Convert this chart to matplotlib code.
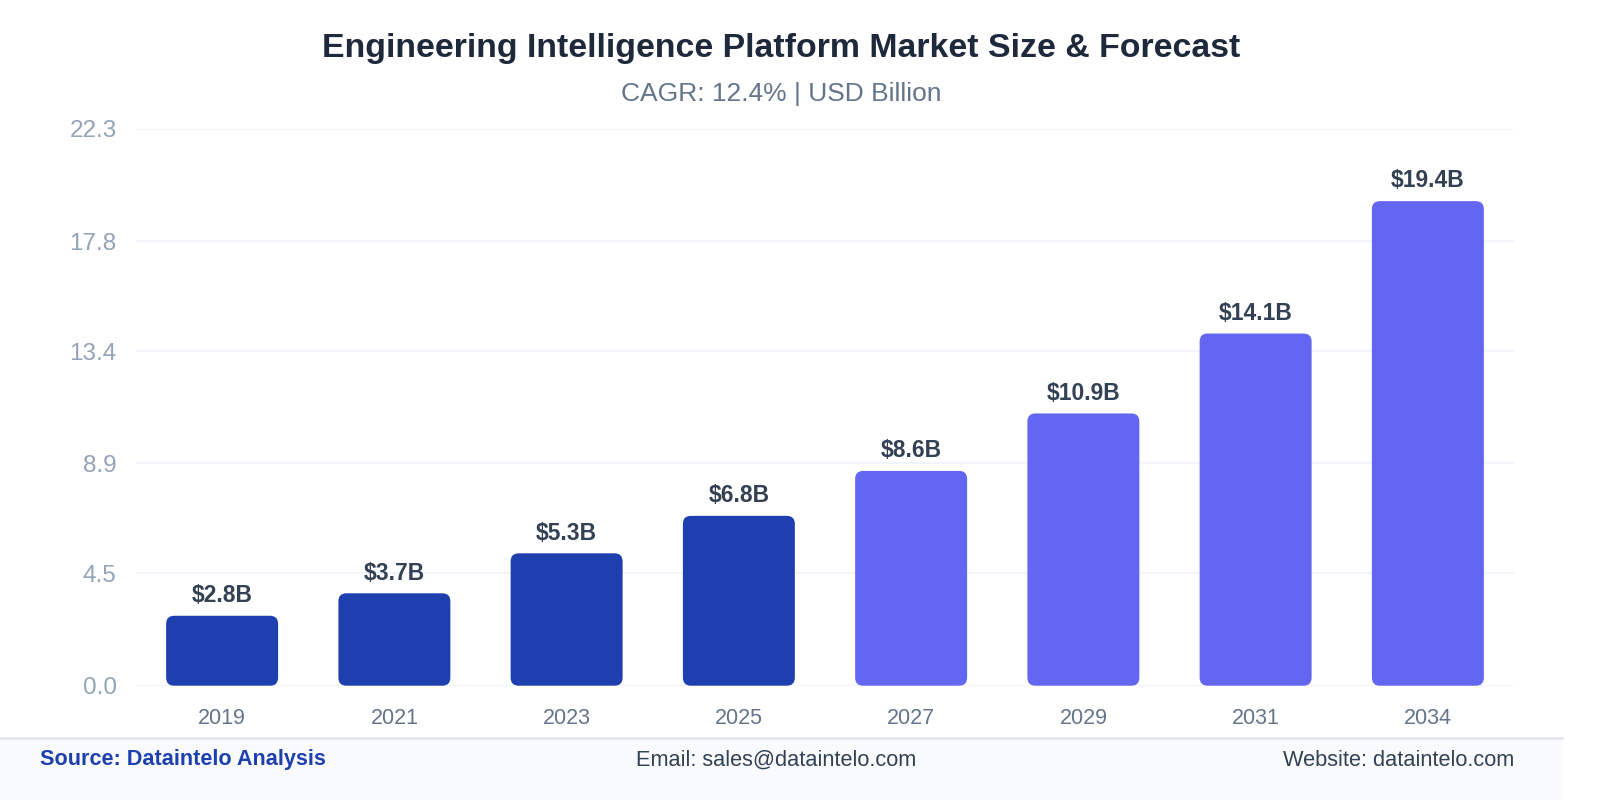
import matplotlib
matplotlib.use("Agg")
import matplotlib.pyplot as plt
from matplotlib.patches import FancyBboxPatch, Rectangle

years = ["2019", "2021", "2023", "2025", "2027", "2029", "2031", "2034"]
values = [2.8, 3.7, 5.3, 6.8, 8.6, 10.9, 14.1, 19.4]
labels = ["$2.8B", "$3.7B", "$5.3B", "$6.8B", "$8.6B", "$10.9B", "$14.1B", "$19.4B"]
yticks = [0.0, 4.5, 8.9, 13.4, 17.8, 22.3]
colors = ["#1e40af"] * 4 + ["#6366f1"] * 4

plt.rcParams["font.family"] = ["Liberation Sans", "DejaVu Sans"]

fig = plt.figure(figsize=(16.1, 8), dpi=100)
ax = fig.add_axes([136 / 1610, 114.3 / 800, 1378 / 1610, 557 / 800])

x = list(range(len(years)))
bars = ax.bar(x, values, width=0.65, color=colors)

ax.set_xlim(-0.5, len(years) - 0.5)
ax.set_ylim(0, 22.3)

# rounded corners: swap each bar for a rounded box of the same size
px_x = 1378 / 8
px_y = 557 / 22.3
r = 8 / px_x
for b, c in zip(bars, colors):
    bx, by, bw, bh = b.get_x(), b.get_y(), b.get_width(), b.get_height()
    b.set_visible(False)
    ax.add_patch(FancyBboxPatch((bx, by), bw, bh,
                                boxstyle=f"round,pad=0,rounding_size={r}",
                                mutation_aspect=px_x / px_y,
                                facecolor=c, edgecolor="none", zorder=3))

for xi, v, lab in zip(x, values, labels):
    ax.annotate(lab, (xi, v), xytext=(0, 6.3), textcoords="offset points",
                ha="center", va="bottom", fontsize=16.5, fontweight="bold",
                color="#334155")

ax.set_yticks(yticks)
ax.set_yticklabels([f"{t:.1f}" for t in yticks])
ax.set_xticks(x)
ax.set_xticklabels(years)
ax.tick_params(axis="y", length=0, pad=14, labelsize=17.5, labelcolor="#94a3b8")
ax.tick_params(axis="x", length=0, pad=16, labelsize=15.5, labelcolor="#64748b")
ax.grid(axis="y", color="#f1f5f9", linewidth=1.5)
ax.set_axisbelow(True)
for s in ax.spines.values():
    s.set_visible(False)

tx = 781 / 1610
fig.text(tx, 1 - 56.7 / 800, "Engineering Intelligence Platform Market Size & Forecast",
         ha="center", va="baseline", fontsize=24.4, fontweight="bold", color="#1e293b")
fig.text(tx, 1 - 101 / 800, "CAGR: 12.4% | USD Billion",
         ha="center", va="baseline", fontsize=19, color="#64748b")

# footer band
fig.patches.append(Rectangle((0, 0), 1562 / 1610, 62 / 800, transform=fig.transFigure,
                             facecolor="#f8fafc", edgecolor="none", zorder=0))
fig.lines.append(plt.Line2D([0, 1562 / 1610], [62 / 800, 62 / 800], transform=fig.transFigure,
                            color="#e2e8f0", linewidth=2))
fy = 1 - 760 / 800
fig.text(40 / 1610, fy, "Source: Dataintelo Analysis", ha="left", va="center",
         fontsize=15.6, fontweight="bold", color="#1e40af")
fig.text(776 / 1610, fy, "Email: sales@dataintelo.com", ha="center", va="center",
         fontsize=15.7, color="#334155")
fig.text(1514 / 1610, fy, "Website: dataintelo.com", ha="right", va="center",
         fontsize=15.7, color="#334155")

fig.savefig("out.png", dpi=100, facecolor="white")
